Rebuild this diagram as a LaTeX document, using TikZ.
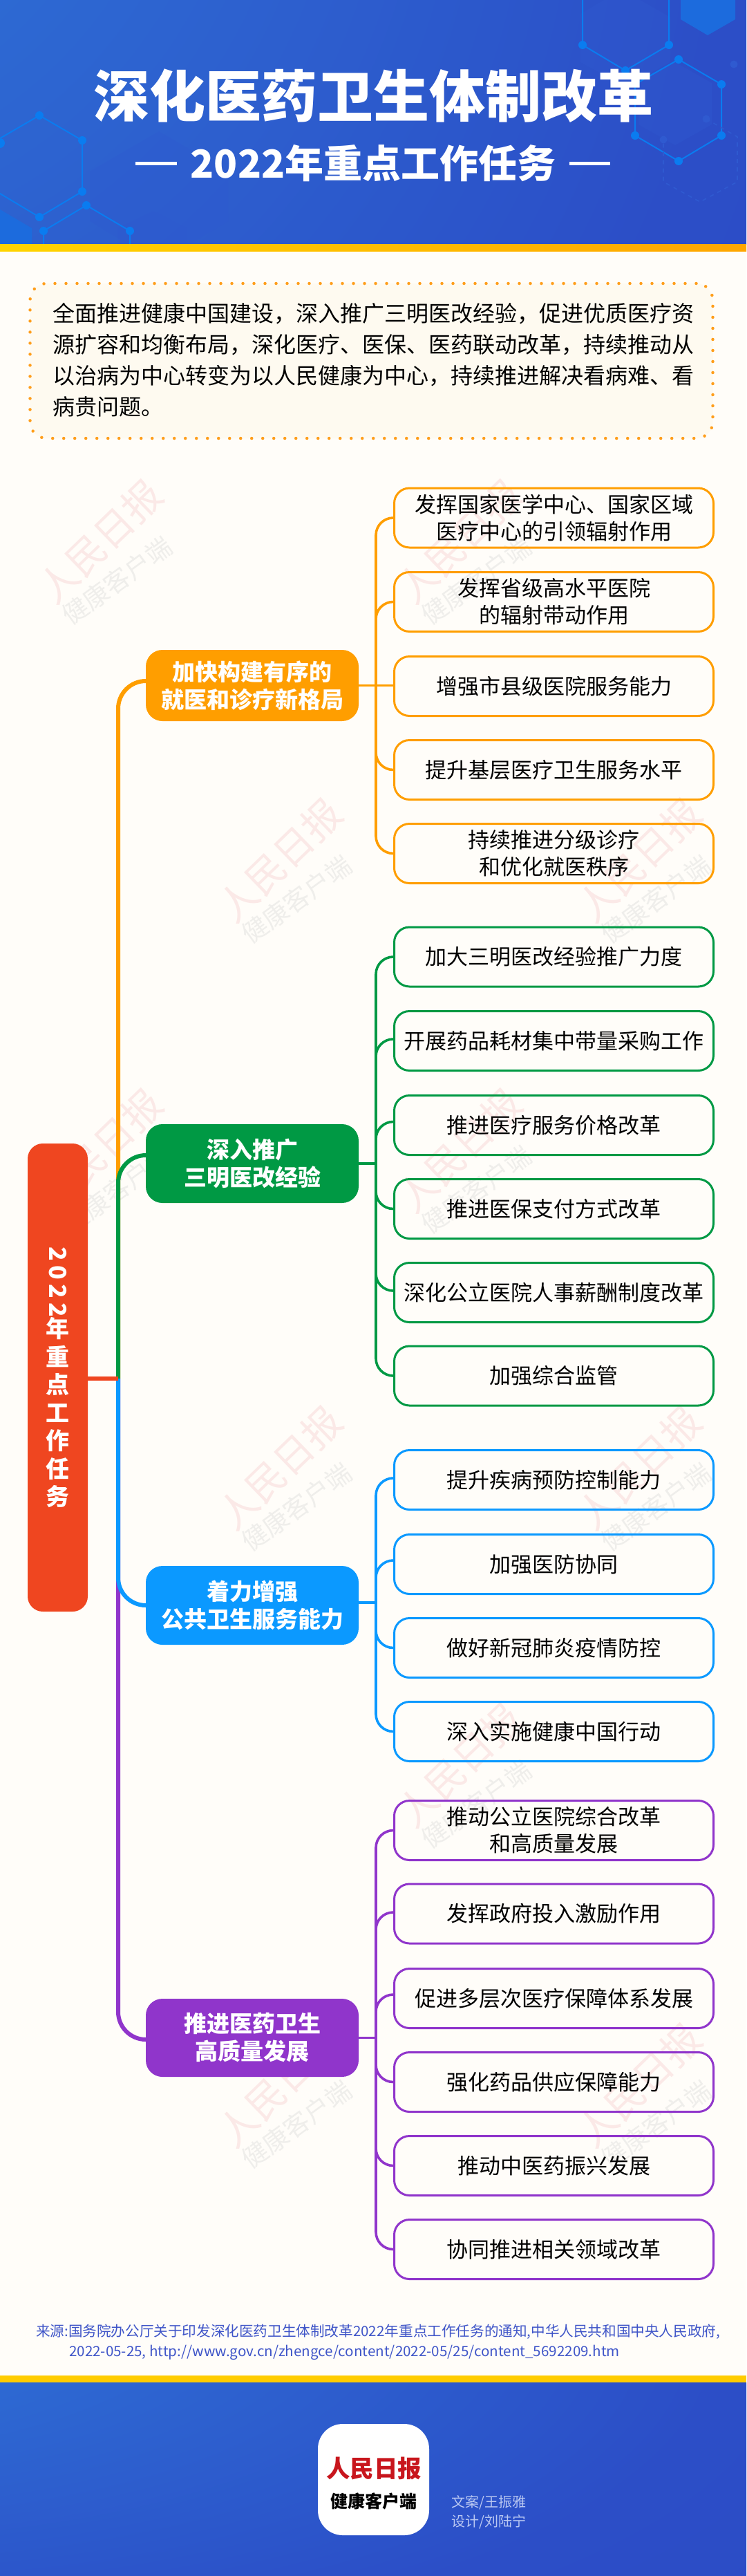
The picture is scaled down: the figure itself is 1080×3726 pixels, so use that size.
\documentclass[tikz,border=0pt]{standalone}
\usepackage{fontspec}
\setmainfont{Noto Sans CJK SC}
\newfontfamily\blackfont{Noto Sans CJK SC Black}
\definecolor{paper}{HTML}{FFFDF9}
\definecolor{hA}{HTML}{2E8EE8}
\definecolor{hB}{HTML}{2D68D2}
\definecolor{hC}{HTML}{2C4EC7}
\definecolor{hD}{HTML}{2B47C3}
\definecolor{hexline}{HTML}{0A7CF0}
\definecolor{hexfill}{HTML}{1C6BDD}
\definecolor{hexfaint}{HTML}{2F5AD0}
\definecolor{cOrange}{HTML}{FF9E00}
\definecolor{cGreen}{HTML}{009944}
\definecolor{cBlue}{HTML}{0B99FF}
\definecolor{cPurple}{HTML}{9035CB}
\definecolor{cRed}{HTML}{EF4620}
\definecolor{boxfill}{HTML}{FEFAF0}
\definecolor{boxdot}{HTML}{FF9E1B}
\definecolor{srccol}{HTML}{3F55C8}
\definecolor{credit}{HTML}{BAC8F2}
\definecolor{wmpink}{HTML}{FBE9E7}
\definecolor{wmgrey}{HTML}{EFEEEB}
\definecolor{logored}{HTML}{C8161D}
\definecolor{stripL}{HTML}{FFD400}
\definecolor{stripR}{HTML}{FFA600}
\definecolor{stripB}{HTML}{FFCC00}
\pgfdeclareradialshading{bandshade}{\pgfpoint{-50bp}{50bp}}{color(0bp)=(hA); color(25bp)=(hB); color(55bp)=(hC); color(100bp)=(hD); color(150bp)=(hD)}
\tikzset{
  itembox/.style={rounded corners=22pt,line width=3pt,minimum width=462pt,minimum height=86pt,inner sep=0pt,align=center,text=black,font=\fontsize{31}{39}\selectfont},
  pillbox/.style={rounded corners=24pt,minimum width=308pt,inner sep=0pt,align=center,text=white,font=\fontsize{33}{40}\selectfont\bfseries},
  trunk/.style={line width=6pt,rounded corners=40pt},
  busline/.style={line width=3.6pt,rounded corners=25pt},
  wmA/.style={text=wmpink,rotate=44,font=\fontsize{56}{56}\selectfont,inner sep=0pt},
  wmB/.style={text=wmgrey,rotate=36,font=\fontsize{37}{37}\selectfont,inner sep=0pt},
  hexedge/.style={draw=hexline,line width=2pt},
  hexdot/.style={fill=hexline},
  hexsoft/.style={fill=hexfill},
  hexghost/.style={fill=hexfaint,opacity=.35}
}
\newcommand\wmark[3]{%
  \node[wmA] (#1a) at (#2+145,#3+783) {人民日报};
  \node[wmB] (#1b) at (#2+169,#3+840) {健康客户端};}
\newcommand\itemnode[4]{\node[itembox,draw=#2] (#1) at (801.5,#3) {#4};}
\begin{document}
\begin{tikzpicture}[x=1pt,y=-1pt]
\useasboundingbox (0,0) rectangle (1080,3726);
\fill[paper] (0,0) rectangle (1080,3726);

% watermarks
\wmark{w1}{0}{0}\wmark{w2}{520}{0}
\wmark{w3}{260}{461}\wmark{w4}{780}{461}
\wmark{w5}{0}{881}\wmark{w6}{520}{881}
\wmark{w7}{260}{1340}\wmark{w8}{780}{1340}
\wmark{w10}{520}{1770}
\wmark{w11}{260}{2233}\wmark{w12}{780}{2233}

% header band
\begin{scope}
\clip (0,0) rectangle (1080,353);
\shade[shading=bandshade] (0,0) rectangle (1080,1080);
\fill[hexghost] (977,90) -- (1030,120) -- (1030,180) -- (977,210) -- (924,180) -- (924,120) -- cycle;
\fill[hexghost] (230,190) -- (330,248) -- (330,320) -- (230,380) -- (130,320) -- (130,248) -- cycle;
\fill[hexghost] (840,20) -- (900,-15) -- (970,25) -- (970,90) -- (905,125) -- (840,90) -- cycle;
\fill[hexghost] (200,353) -- (170,353) -- (170,330) -- (222,305) -- (270,330) -- (270,353) -- cycle;
\fill[hexsoft] (985,0) -- (985,28) -- (1024,51) -- (1064,28) -- (1064,0) -- cycle;
\fill[hexsoft] (0,303) -- (46,330) -- (46,353) -- (0,353) -- cycle;
\draw[hexedge] (843,0) -- (843,65) -- (905,102) -- (968,65) -- (968,0);
\draw[hexedge] (982,86) -- (1044,122) -- (1044,196) -- (982,233) -- (919,196) -- (919,122) -- cycle;
\draw[hexedge] (-5,203) -- (57,167) -- (119,203) -- (119,277) -- (57,314) -- (-5,277);
\draw[hexedge] (63,353) -- (63,334) -- (125,297) -- (188,334) -- (188,353);
\foreach \px/\py in {843/65,905/102,968/65,982/86,1044/122,1044/196,982/233,919/196,57/167,119/203,119/277,57/314,63/334,125/297,188/334}
  \fill[hexdot] (\px,\py) circle[radius=6];
\fill[hexdot] (0,207) circle[radius=7];
\draw[hexfaint,line width=1.6pt,dash pattern=on 6pt off 6pt] (1022,172) -- (1067,198) -- (1067,263) -- (1013,292) -- (960,263) -- (960,200);
\foreach \px/\py in {960/202,1022/172,1062/93}
  \fill[hexfaint] (\px,\py) circle[radius=5.5];
\end{scope}
\shade[left color=stripL,right color=stripR] (0,353) rectangle (1080,363);

\node[text=white,inner sep=0pt,font=\fontsize{81}{81}\selectfont\blackfont] (title) at (540,139) {深化医药卫生体制改革};
\node[text=white,inner sep=0pt,font=\fontsize{56}{56}\selectfont\bfseries] (subtitle) at (540,236) {2022年重点工作任务};
\fill[white] (196,233.5) rectangle (256,238.5);
\fill[white] (824,233.5) rectangle (883,238.5);

% intro
\node[draw=boxdot,fill=boxfill,line width=4.5pt,line cap=round,dash pattern=on 0pt off 16pt,rounded corners=24pt,minimum width=988pt,minimum height=224pt,inner sep=0pt] (introbox) at (537.5,522) {};
\node[anchor=west,align=left,inner sep=0pt,text=black,font=\fontsize{32}{45}\selectfont] (intro) at (76,521) {全面推进健康中国建设，深入推广三明医改经验，促进优质医疗资\\源扩容和均衡布局，深化医疗、医保、医药联动改革，持续推动从\\以治病为中心转变为以人民健康为中心，持续推进解决看病难、看\\病贵问题。};

% root
\node[fill=cRed,rounded corners=22pt,minimum width=87pt,minimum height=677pt,inner sep=0pt,align=center,text=white,font=\fontsize{34}{40.5}\selectfont\bfseries] (root) at (83.5,1992.5) {\rotatebox{-90}{2\kern6pt 0\kern6pt 2\kern6pt 2}\\年\\重\\点\\工\\作\\任\\务};

% groups
\node[pillbox,fill=cOrange,minimum height=103pt] (g1) at (365,991.5) {加快构建有序的\\就医和诊疗新格局};
\node[pillbox,fill=cGreen,minimum height=114pt] (g2) at (365,1683) {深入推广\\三明医改经验};
\node[pillbox,fill=cBlue,minimum height=114pt] (g3) at (365,2322) {着力增强\\公共卫生服务能力};
\node[pillbox,fill=cPurple,minimum height=113pt] (g4) at (365,2947.5) {推进医药卫生\\高质量发展};

% items
\itemnode{a1}{cOrange}{749}{发挥国家医学中心、国家区域\\医疗中心的引领辐射作用}
\itemnode{a2}{cOrange}{870.5}{发挥省级高水平医院\\的辐射带动作用}
\itemnode{a3}{cOrange}{992.5}{增强市县级医院服务能力}
\itemnode{a4}{cOrange}{1113.5}{提升基层医疗卫生服务水平}
\itemnode{a5}{cOrange}{1234.5}{持续推进分级诊疗\\和优化就医秩序}

\itemnode{b1}{cGreen}{1384}{加大三明医改经验推广力度}
\itemnode{b2}{cGreen}{1505.5}{开展药品耗材集中带量采购工作}
\itemnode{b3}{cGreen}{1627.5}{推进医疗服务价格改革}
\itemnode{b4}{cGreen}{1748.5}{推进医保支付方式改革}
\itemnode{b5}{cGreen}{1869.5}{深化公立医院人事薪酬制度改革}
\itemnode{b6}{cGreen}{1990}{加强综合监管}

\itemnode{c1}{cBlue}{2140.5}{提升疾病预防控制能力}
\itemnode{c2}{cBlue}{2262.5}{加强医防协同}
\itemnode{c3}{cBlue}{2383.5}{做好新冠肺炎疫情防控}
\itemnode{c4}{cBlue}{2504.5}{深入实施健康中国行动}

\itemnode{d1}{cPurple}{2647.5}{推动公立医院综合改革\\和高质量发展}
\itemnode{d2}{cPurple}{2768}{发挥政府投入激励作用}
\itemnode{d3}{cPurple}{2890.5}{促进多层次医疗保障体系发展}
\itemnode{d4}{cPurple}{3011.5}{强化药品供应保障能力}
\itemnode{d5}{cPurple}{3132.5}{推动中医药振兴发展}
\itemnode{d6}{cPurple}{3253.5}{协同推进相关领域改革}

% trunk
\coordinate (tr) at (171,1994);
\coordinate (bus) at (544,0);
\draw[cOrange,trunk] (tr) |- ([yshift=6.5pt]g1.west);
\draw[cGreen,trunk] (tr) |- ([yshift=12pt]g2.west);
\draw[cPurple,trunk] (tr) |- ([yshift=-2.5pt]g4.west);
\draw[cBlue,trunk] (tr) |- (g3.west);
\draw[cRed,line width=6pt] (root.east |- tr) -- (tr);

% orange branches
\draw[cOrange,busline] (g1.east) -- (a3.west |- g1.east);
\foreach \n in {a1,a2,a4,a5} \draw[cOrange,busline] (g1.east -| bus) |- (\n.west);
% green branches
\draw[cGreen,busline] (g2.east) -- (g2.east -| bus);
\foreach \n/\s in {b1/0,b2/2.5,b3/5,b4/0,b5/2.5,b6/0} \draw[cGreen,busline] (g2.east -| bus) |- ([yshift=\s pt]\n.west);
% blue branches
\draw[cBlue,busline] ([yshift=4pt]g3.east) -- ([yshift=4pt]g3.east -| bus);
\foreach \n/\s in {c1/2.5,c2/5.5,c3/0,c4/0} \draw[cBlue,busline] ([yshift=4pt]g3.east -| bus) |- ([yshift=\s pt]\n.west);
% purple branches
\draw[cPurple,busline] (g4.east) -- (g4.east -| bus);
\foreach \n/\s in {d1/0,d2/2,d3/5.5,d4/0,d5/0,d6/0} \draw[cPurple,busline] (g4.east -| bus) |- ([yshift=\s pt]\n.west);

% source
\node[anchor=north west,align=left,inner sep=0pt,text=srccol,font=\fontsize{20.6}{29}\selectfont] (source) at (52,3362) {来源:国务院办公厅关于印发深化医药卫生体制改革2022年重点工作任务的通知,中华人民共和国中央人民政府,\\\hspace*{48pt}2022-05-25, http://www.gov.cn/zhengce/content/2022-05/25/content\_5692209.htm};

% footer
\begin{scope}
\clip (0,3446) rectangle (1080,3726);
\shade[shading=bandshade] (0,3446) rectangle (1080,3846);
\end{scope}
\fill[stripB] (0,3436) rectangle (1080,3446);
\node[fill=white,rounded corners=36pt,minimum width=161pt,minimum height=161pt,inner sep=0pt] (logo) at (540.5,3586.5) {};
\node[text=logored,inner sep=0pt,font=\fontsize{34.5}{34.5}\selectfont\bfseries] (logoA) at (541,3570) {人民日报};
\node[text=black,inner sep=0pt,font=\fontsize{25}{25}\selectfont\blackfont] (logoB) at (541,3618) {健康客户端};
\node[anchor=north west,align=left,inner sep=0pt,text=credit,font=\fontsize{20}{28}\selectfont] (credits) at (653,3609) {文案/王振雅\\设计/刘陆宁};
\end{tikzpicture}
\end{document}
